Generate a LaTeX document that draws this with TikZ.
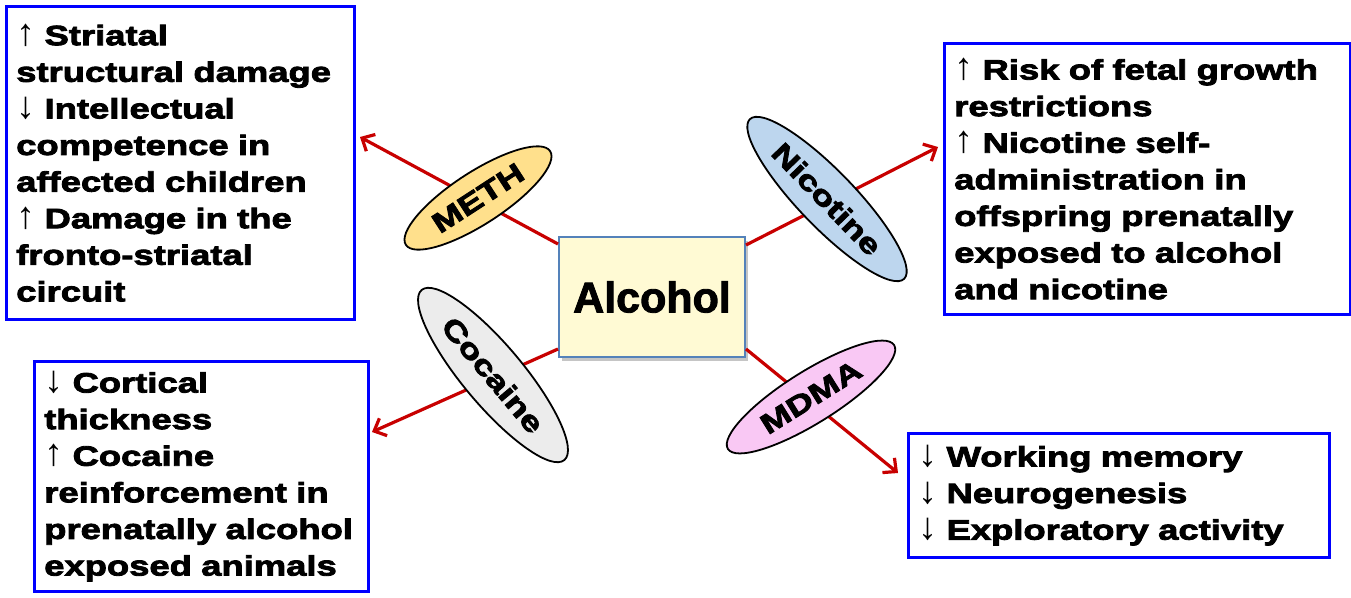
\documentclass[tikz,border=0pt]{standalone}
\usepackage{fontspec}
\setmainfont{Liberation Sans}
\newfontfamily\boxfont[FakeStretch=1.3,FakeBold=3]{Liberation Sans}
\newfontfamily\alcfont[FakeBold=2]{Liberation Sans}
\newfontfamily\arrfont{Liberation Sans}
\usepackage{tikz}
\usetikzlibrary{positioning,shapes.geometric,arrows.meta,shadows}
\definecolor{linkred}{RGB}{200,0,0}
\definecolor{fxblue}{RGB}{0,0,255}
\definecolor{alcfill}{RGB}{255,250,212}
\definecolor{alcline}{RGB}{84,130,186}
\definecolor{methfill}{RGB}{255,224,140}
\definecolor{nicfill}{RGB}{189,214,238}
\definecolor{cocfill}{RGB}{236,236,236}
\definecolor{mdmafill}{RGB}{249,200,244}
\newcommand{\upar}{{\arrfont\mdseries\fontsize{38}{36.6}\selectfont ↑}}
\newcommand{\dnar}{{\arrfont\mdseries\fontsize{38}{36.6}\selectfont ↓}}

\begin{document}
\begin{tikzpicture}[x=1pt,y=-1pt,
  every node/.style={font=\boxfont\bfseries\fontsize{28}{36.6}\selectfont}]
  \tikzset{effect/.style={draw=fxblue,line width=2.5pt,align=left,anchor=north west,inner xsep=10pt,inner ysep=0pt}}
  \tikzset{drug/.style={ellipse,draw,line width=1.8pt,inner sep=0pt}}
  \tikzset{link/.style={linkred,line width=3.2pt,-{Straight Barb[length=10pt,width=19pt]}}}
  \useasboundingbox (0,0) rectangle (1351,597);
  % centre
  \node[draw=alcline,fill=alcfill,line width=2pt,minimum width=186pt,minimum height=120pt,
    drop shadow={shadow xshift=3pt,shadow yshift=-4pt,fill=black!45},
    font=\alcfont\bfseries\fontsize{43}{43}\selectfont] (alc) at (652,297) {Alcohol};
  % effect boxes
  \node[effect,text width=328pt,minimum height=313pt] (methfx) at (5,5)
    {\upar{} Striatal\\ structural damage\\ \dnar{} Intellectual\\ competence in\\
     affected children\\ \upar{} Damage in the\\ fronto-striatal\\ circuit};
  \node[effect,text width=386pt,minimum height=271pt] (nicfx) at (943,42)
    {\upar{} Risk of fetal growth\\ restrictions\\ \upar{} Nicotine self-\\ administration in\\
     offspring prenatally\\ exposed to alcohol\\ and nicotine};
  \node[effect,text width=314pt,minimum height=230pt] (cocfx) at (33,360)
    {\dnar{} Cortical\\ thickness\\ \upar{} Cocaine\\ reinforcement in\\
     prenatally alcohol\\ exposed animals};
  \node[effect,text width=401pt,minimum height=124pt] (mdmafx) at (907,432)
    {\dnar{} Working memory\\ \dnar{} Neurogenesis\\ \dnar{} Exploratory activity};
  % arrow ends
  \coordinate (methtip) at (360,137);
  \coordinate (nictip) at (938,147);
  \coordinate (coctip) at (372,432);
  \coordinate (mdmatip) at (898,473);
  \path[link]
  ([yshift=-8pt]alc.north west) edge (methtip)
  ([yshift=-9pt]alc.north east) edge (nictip)
  ([yshift=9pt]alc.south west) edge (coctip)
  ([yshift=9pt]alc.south east) edge (mdmatip)
  ;
  % drugs
  \node[drug,fill=methfill,minimum width=172pt,minimum height=52pt,rotate=33] (meth) at (478,198) {METH};
  \node[drug,fill=nicfill,minimum width=222pt,minimum height=56pt,rotate=-46] (nic) at (827,199) {Nicotine};
  \node[drug,fill=cocfill,minimum width=222pt,minimum height=60pt,rotate=-50] (coc) at (493,375) {Cocaine};
  \node[drug,fill=mdmafill,minimum width=196pt,minimum height=52pt,rotate=32] (mdma) at (811,397) {MDMA};
\end{tikzpicture}
\end{document}
